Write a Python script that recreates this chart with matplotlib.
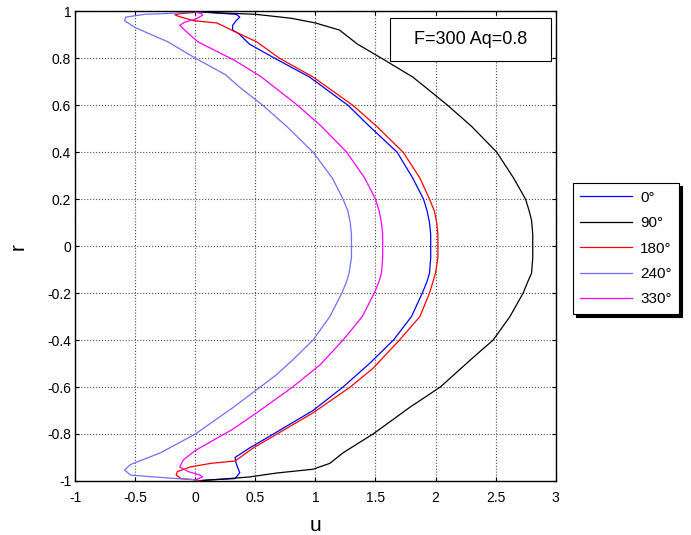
import matplotlib.pyplot as plt
from matplotlib.patches import Rectangle

plt.rcParams['font.family'] = ['Liberation Sans', 'DejaVu Sans']

# perfis de velocidade u(r) para cada fase
r_0 = [1.0, 0.993, 0.987, 0.975, 0.96, 0.94, 0.92, 0.905, 0.86, 0.8, 0.72, 0.6, 0.51, 0.4, 0.29, 0.2, 0.15, 0.1,
       0.05, 0, -0.05, -0.115, -0.15, -0.2, -0.3, -0.4, -0.5, -0.6, -0.7, -0.8, -0.86, -0.9, -0.925, -0.94, -0.965,
       -0.99, -0.995, -1.0]
u_0 = [-0.02, 0.15, 0.34, 0.37, 0.34, 0.31, 0.31, 0.36, 0.45, 0.66, 0.95, 1.27, 1.45, 1.68, 1.81, 1.90, 1.93, 1.95,
       1.96, 1.96, 1.96, 1.95, 1.93, 1.89, 1.80, 1.65, 1.45, 1.23, 0.98, 0.65, 0.45, 0.33, 0.34, 0.35, 0.37,
       0.33, 0.13, 0.0]

r_90 = [1.0, 0.993, 0.987, 0.97, 0.95, 0.92, 0.86, 0.8, 0.72, 0.65, 0.6, 0.51, 0.4, 0.29, 0.2, 0.15, 0.11, 0.05, 0,
        -0.05, -0.115, -0.15, -0.2, -0.3, -0.4, -0.485, -0.6, -0.685, -0.8, -0.88, -0.925, -0.95, -0.966, -0.983,
        -0.993, -1.0]
u_90 = [0.0, 0.2, 0.5, 0.8, 1.0, 1.20, 1.35, 1.55, 1.81, 1.98, 2.10, 2.30, 2.51, 2.65, 2.75, 2.78, 2.80, 2.81, 2.81,
        2.81, 2.80, 2.77, 2.73, 2.62, 2.48, 2.29, 2.04, 1.79, 1.48, 1.23, 1.12, 0.98, 0.68, 0.45, 0.2, 0.0]

r_180 = [1.0, 0.995, 0.99, 0.985, 0.98, 0.96, 0.95, 0.915, 0.87, 0.8, 0.72, 0.6, 0.51, 0.4, 0.29, 0.2, 0.15, 0.1,
         0.05, 0, -0.05, -0.115, -0.15, -0.2, -0.3, -0.4, -0.52, -0.6, -0.71, -0.8, -0.86, -0.915, -0.925, -0.94,
         -0.96, -0.975, -0.99, -0.995, -1.0]
u_180 = [0.05, 0.0, -0.12, -0.17, -0.15, -0.02, 0.18, 0.32, 0.51, 0.70, 0.98, 1.31, 1.51, 1.73, 1.87, 1.95, 1.99,
         2.01, 2.02, 2.02, 2.02, 2.0, 1.98, 1.95, 1.87, 1.70, 1.48, 1.29, 0.98, 0.68, 0.48, 0.33, 0.13, -0.04,
         -0.15, -0.16, -0.12, 0.0, 0.05]

r_240 = [1.0, 0.995, 0.99, 0.987, 0.975, 0.96, 0.93, 0.87, 0.8, 0.73, 0.68, 0.6, 0.51, 0.4, 0.29, 0.2, 0.15, 0.1,
         0.05, 0, -0.05, -0.115, -0.15, -0.2, -0.3, -0.4, -0.485, -0.55, -0.6, -0.685, -0.8, -0.88, -0.93, -0.953,
         -0.975, -0.983, -0.99, -0.995, -1.0]
u_240 = [0.02, -0.06, -0.25, -0.42, -0.58, -0.59, -0.5, -0.23, 0.0, 0.25, 0.36, 0.56, 0.76, 0.98, 1.14, 1.23, 1.27,
         1.29, 1.30, 1.30, 1.30, 1.28, 1.26, 1.22, 1.12, 0.98, 0.81, 0.67, 0.54, 0.32, 0.0, -0.29, -0.54, -0.59,
         -0.54, -0.34, -0.15, 0.0, 0.02]

r_330 = [0.996, 0.99, 0.983, 0.966, 0.953, 0.94, 0.92, 0.87, 0.79, 0.72, 0.6, 0.51, 0.4, 0.29, 0.2, 0.15, 0.1, 0.05,
         0, -0.05, -0.115, -0.15, -0.2, -0.3, -0.4, -0.505, -0.6, -0.71, -0.78, -0.87, -0.91, -0.94, -0.96, -0.975,
         -0.983, -0.995]
u_330 = [0.0, 0.05, 0.06, 0.0, -0.09, -0.13, -0.09, 0.02, 0.33, 0.55, 0.85, 1.05, 1.26, 1.41, 1.50, 1.53, 1.55,
         1.56, 1.56, 1.56, 1.55, 1.53, 1.49, 1.39, 1.23, 1.04, 0.81, 0.51, 0.31, 0.0, -0.10, -0.13, -0.06, 0.04,
         0.06, 0.0]

legendas = ['0°', '90°', '180°', '240°', '330°']
cores = ['#0000ff', '#000000', '#ff0000', '#7070ff', '#ff00ff']
perfis = [(u_0, r_0), (u_90, r_90), (u_180, r_180), (u_240, r_240), (u_330, r_330)]

x_ticks = [-1, -0.5, 0, 0.5, 1, 1.5, 2, 2.5, 3]
x_labels = ['-1', '-0.5', '0', '0.5', '1', '1.5', '2', '2.5', '3']
y_ticks = [-1, -0.8, -0.6, -0.4, -0.2, 0, 0.2, 0.4, 0.6, 0.8, 1]
y_labels = ['-1', '-0.8', '-0.6', '-0.4', '-0.2', '0', '0.2', '0.4', '0.6', '0.8', '1']

fig = plt.figure(figsize=(6.91, 5.35), dpi=100)
ax = fig.add_axes([0.109, 0.101, 0.695, 0.878])

for (u, r), c, lab in zip(perfis, cores, legendas):
    ax.plot(u, r, color=c, lw=0.9, label=lab)

ax.set_xlim(-1, 3)
ax.set_ylim(-1, 1)
ax.set_xticks(x_ticks)
ax.set_xticklabels(x_labels)
ax.set_yticks(y_ticks)
ax.set_yticklabels(y_labels)
ax.tick_params(direction='in', top=True, right=True, length=3, labelsize=10)
ax.tick_params(axis='x', pad=7)
ax.tick_params(axis='y', pad=3)
ax.grid(True, linestyle=':', color='0.3', lw=0.8)
for s in ax.spines.values():
    s.set_linewidth(1.0)

ax.set_xlabel('u', fontsize=15, labelpad=8)
ax.set_ylabel('r', fontsize=15, labelpad=14)

# caixa com os parametros
ax.add_patch(Rectangle((1.62, 0.79), 1.34, 0.18, facecolor='white', edgecolor='black', lw=0.8, zorder=5))
ax.text(2.29, 0.88, 'F=300 Aq=0.8', fontsize=13, ha='center', va='center', zorder=6)

leg = ax.legend(loc='upper left', bbox_to_anchor=(0.829, 0.658), bbox_transform=fig.transFigure,
                borderaxespad=0, fontsize=11, handlelength=3.4, handletextpad=0.5, labelspacing=0.75,
                borderpad=0.5, fancybox=False, edgecolor='black', framealpha=1,
                shadow={'color': 'black', 'alpha': 1})
leg.get_frame().set_linewidth(0.8)

fig.savefig('out.png', dpi=100)
